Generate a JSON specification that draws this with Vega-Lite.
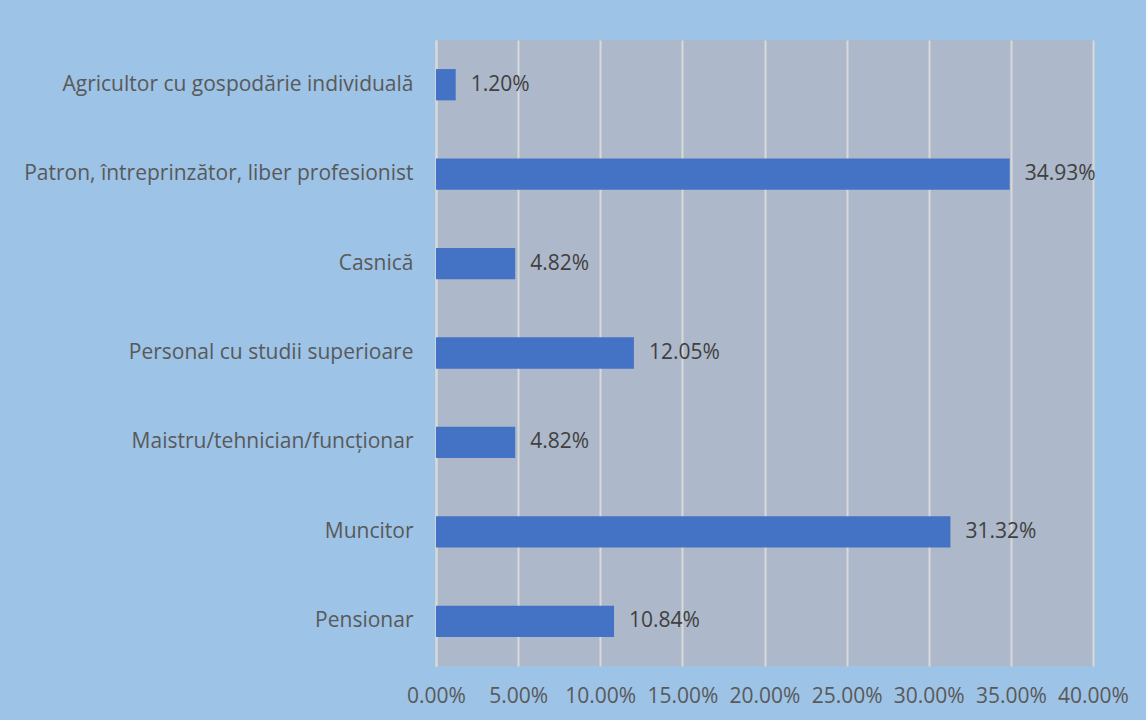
{
  "$schema": "https://vega.github.io/schema/vega-lite/v6.json",
  "autosize": {"type": "none"},
  "width": 657,
  "height": 626,
  "padding": {"left": 436, "top": 40, "right": 53, "bottom": 54},
  "background": "#9DC3E6",
  "data": {"values": [
    {"category": "Agricultor cu gospodărie individuală", "value": 0.012},
    {"category": "Patron, întreprinzător, liber profesionist", "value": 0.3493},
    {"category": "Casnică", "value": 0.0482},
    {"category": "Personal cu studii superioare", "value": 0.1205},
    {"category": "Maistru/tehnician/funcționar", "value": 0.0482},
    {"category": "Muncitor", "value": 0.3132},
    {"category": "Pensionar", "value": 0.1084}
  ]},
  "config": {
    "view": {"fill": "#ADB9CA", "stroke": null},
    "font": "Open Sans"
  },
  "encoding": {
    "y": {
      "field": "category", "type": "nominal", "sort": null,
      "scale": {"paddingInner": 0.65, "paddingOuter": 0.325},
      "axis": {
        "title": null, "ticks": false, "domain": true, "domainColor": "#D9D9D9", "domainWidth": 2,
        "labelFont": "Open Sans", "labelFontSize": 21, "labelColor": "#595959", "labelPadding": 23,
        "labelLimit": 500, "grid": false
      }
    },
    "x": {
      "field": "value", "type": "quantitative",
      "scale": {"domain": [0, 0.4], "nice": false},
      "axis": {
        "title": null, "format": ".2%", "values": [0, 0.05, 0.1, 0.15, 0.2, 0.25, 0.3, 0.35, 0.4],
        "ticks": false, "domain": false, "grid": true, "gridColor": "#D9D9D9", "gridWidth": 2,
        "labelFont": "Open Sans", "labelFontSize": 21, "labelColor": "#595959", "labelPadding": 19,
        "labelOverlap": false, "labelFlush": false
      }
    }
  },
  "layer": [
    {"mark": {"type": "bar", "color": "#4472C4"}},
    {
      "mark": {"type": "text", "align": "left", "baseline": "middle", "dx": 15, "font": "Open Sans", "fontSize": 21, "color": "#404040"},
      "encoding": {"text": {"field": "value", "type": "quantitative", "format": ".2%"}}
    }
  ]
}
